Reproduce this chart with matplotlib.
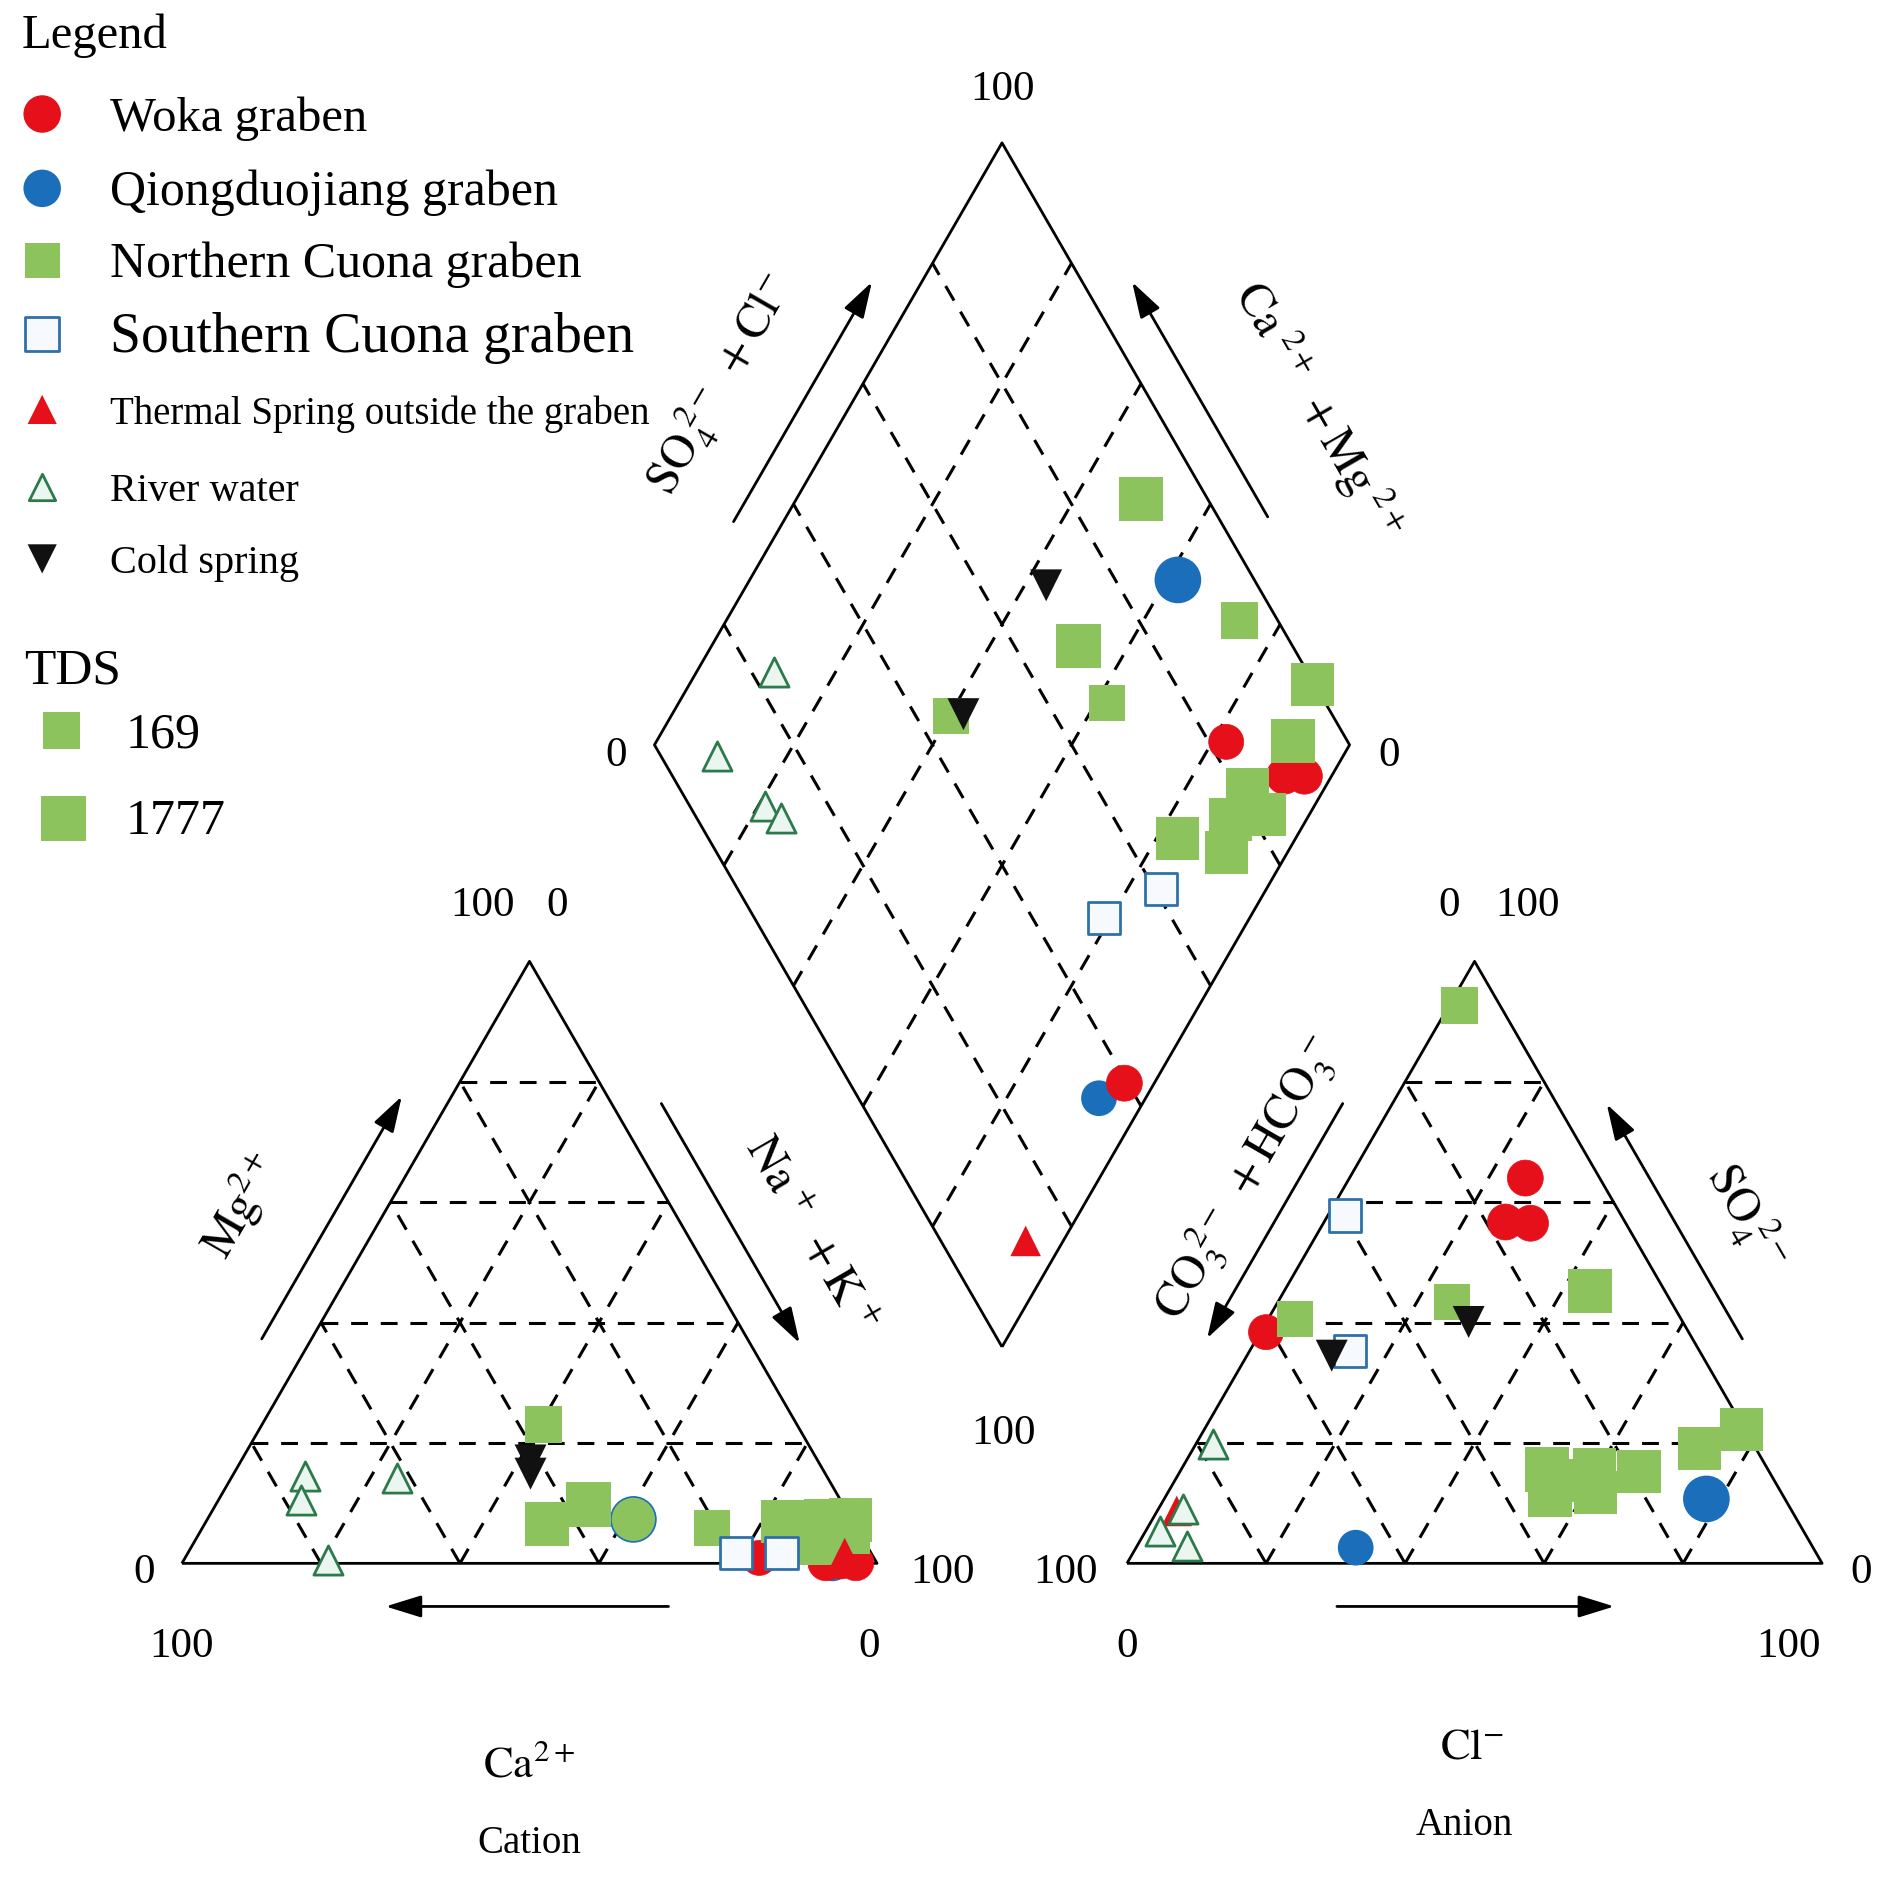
import numpy as np
import matplotlib.pyplot as plt

plt.rcParams['font.family'] = ['Liberation Serif', 'DejaVu Serif']
plt.rcParams['mathtext.fontset'] = 'stix'

# cation triangle points: (Mg2+ %, Na+ + K+ %)
# anion triangle points:  (SO4 2- %, Cl- %)
# diamond points:         (SO4 2- + Cl- %, Ca2+ + Mg2+ %)

woka_cation = [(0.9, 82.6), (0.1, 92.6), (0.1, 96.9), (0.4, 94.6)]
woka_anion = [(38.4, 0.8), (64.0, 25.3), (56.7, 26.1), (56.5, 29.8)]
woka_diamond = [(82.5, 18.0), (88.0, 6.8), (90.9, 3.9), (39.5, 4.3)]
woka_tds = [96, 127, 127, 127]

qd_cation = [(7.3, 61.3), (0.0, 93.6)]
qd_anion = [(10.7, 78.0), (2.6, 31.6)]
qd_diamond = [(89.0, 38.4), (34.6, 6.7)]
qd_tds = [1777, 72]

nc_cation = [(23.0, 40.5), (5.8, 73.3), (4.6, 86.0), (6.6, 49.2), (9.8, 53.6), (7.0, 82.9),
             (7.0, 89.2), (5.1, 93.3), (3.4, 90.2), (6.0, 91.4), (5.6, 87.3), (7.2, 92.6)]
nc_anion = [(92.6, 1.5), (43.4, 25.0), (40.6, 3.8), (45.3, 44.0), (15.6, 52.6), (15.6, 59.4),
            (11.4, 55.2), (11.7, 61.6), (15.3, 66.0), (19.0, 72.8), (22.3, 77.2), (13.7, 56.6)]
nc_diamond = [(94.4, 26.2), (68.5, 38.4), (45.1, 59.7), (90.4, 50.5), (69.2, 47.2), (99.7, 10.4),
              (92.1, 8.5), (81.6, 11.0), (81.9, 6.5), (76.7, 10.9), (67.4, 17.0), (73.3, 8.8)]
nc_tds = [169, 127, 127, 1335, 1500, 1006, 1335, 1006, 1100, 1006, 1050, 1006]

sc_cation = [(1.7, 78.9), (1.7, 85.4)]
sc_anion = [(57.8, 2.5), (35.3, 14.4)]
sc_diamond = [(50.3, 21.0), (60.9, 15.1)]
sc_tds = [96, 96]

thermal_cation = [(1.7, 94.5)]
thermal_anion = [(8.7, 2.8)]
thermal_diamond = [(12.2, 5.4)]

river_cation = [(14.5, 10.4), (10.6, 11.9), (14.2, 23.9), (0.6, 20.7)]
river_anion = [(19.8, 2.4), (9.0, 3.5), (5.3, 2.1), (2.8, 7.3)]
river_diamond = [(23.3, 88.8), (8.1, 90.1), (10.9, 79.0), (12.2, 75.7)]

cold_cation = [(17.1, 41.6), (14.9, 42.7)]
cold_anion = [(40.1, 29.1), (34.5, 12.2)]
cold_diamond = [(69.6, 56.9), (47.0, 58.1)]

tds_legend = [169, 1777]
grid_levels = [20, 40, 60, 80]

RED = '#E5101A'
BLUE = '#1B6FBA'
GREEN = '#8CC35C'
OPEN_EDGE = '#2F70AA'
RIVER_EDGE = '#2C7A4B'

# piper geometry, triangle side = 1
H = np.sqrt(3) / 2
GAP = 0.3596
AN_X0 = 1 + GAP
DB = np.array([1 + GAP / 2, GAP * H])   # diamond bottom corner


def cation_xy(pts):
    p = np.asarray(pts, float) / 100
    return p[:, 1] + p[:, 0] / 2, p[:, 0] * H


def anion_xy(pts):
    p = np.asarray(pts, float) / 100
    return AN_X0 + p[:, 1] + p[:, 0] / 2, p[:, 0] * H


def diamond_xy(pts):
    p = np.asarray(pts, float) / 100
    a, b = p[:, 0], p[:, 1]
    return DB[0] + (a - b) / 2, DB[1] + (a + b) * H


def tds_size(tds):
    t = (np.log(np.asarray(tds, float)) - np.log(169)) / (np.log(1777) - np.log(169))
    return (26.6 + 5.8 * t) ** 2


fig = plt.figure(figsize=(18.89, 18.83), dpi=100)
ax = fig.add_axes([0, 0, 1, 1])
U = 577.0
ax.set_xlim(-151 / U, (1568 - 151) / U)
ax.set_ylim((1298.5 - 1563) / U, 1298.5 / U)
ax.axis('off')

line_kw = dict(color='black', lw=2, zorder=1, solid_capstyle='butt')
dash_kw = dict(color='black', lw=2.2, dashes=(5.5, 4.2), zorder=1)

# triangles
for x0 in (0, AN_X0):
    ax.plot([x0, x0 + 1, x0 + 0.5, x0], [0, 0, H, 0], **line_kw)
    for k in np.array(grid_levels) / 100:
        ax.plot([x0 + k / 2, x0 + 1 - k / 2], [k * H, k * H], **dash_kw)
        ax.plot([x0 + k, x0 + k + (1 - k) / 2], [0, (1 - k) * H], **dash_kw)
        ax.plot([x0 + 1 - k, x0 + (1 - k) / 2], [0, (1 - k) * H], **dash_kw)

# diamond
dl = DB + [-0.5, H]
dr = DB + [0.5, H]
dt = DB + [0, 2 * H]
ax.plot([DB[0], dr[0], dt[0], dl[0], DB[0]], [DB[1], dr[1], dt[1], dl[1], DB[1]], **line_kw)
for k in np.array(grid_levels) / 100:
    ax.plot([DB[0] + k / 2, DB[0] + (k - 1) / 2], [DB[1] + k * H, DB[1] + (k + 1) * H], **dash_kw)
    ax.plot([DB[0] - k / 2, DB[0] + (1 - k) / 2], [DB[1] + k * H, DB[1] + (k + 1) * H], **dash_kw)


def edge_point(p0, p1, t, off):
    p0, p1 = np.asarray(p0, float), np.asarray(p1, float)
    d = p1 - p0
    n = np.array([-d[1], d[0]]) / np.hypot(*d)
    return p0 + t * d + off * n


def edge_arrow(p0, p1, t0, t1, off):
    a = edge_point(p0, p1, t0, off)
    b = edge_point(p0, p1, t1, off)
    ax.annotate('', xy=b, xytext=a,
                arrowprops=dict(arrowstyle='-|>,head_length=0.55,head_width=0.17',
                                lw=2, color='black', shrinkA=0, shrinkB=0,
                                mutation_scale=40))


c0, c1, ca = (0, 0), (1, 0), (0.5, H)
a0, a1, aa = (AN_X0, 0), (AN_X0 + 1, 0), (AN_X0 + 0.5, H)
OFF = 0.062

edge_arrow(c0, ca, 0.337, 0.74, OFF)
edge_arrow(ca, c1, 0.272, 0.67, OFF)
edge_arrow(c1, c0, 0.30, 0.707, OFF)
edge_arrow(aa, a0, 0.272, 0.662, -OFF)
edge_arrow(a1, aa, 0.337, 0.727, -OFF)
edge_arrow(a0, a1, 0.302, 0.701, -OFF)
edge_arrow(dl, dt, 0.335, 0.733, OFF)
edge_arrow(dr, dt, 0.343, 0.733, -OFF)

# axis names along the edges
lab_kw = dict(fontsize=34, ha='center', va='center', rotation_mode='anchor')
ax.text(0.085, 0.517, r'$\mathrm{Mg^{2+}}$', rotation=60, **lab_kw)
ax.text(0.903, 0.474, r'$\mathrm{Na^{\,+}\ +K^{\,+}}$', rotation=-60, **lab_kw)
ax.text(1.532, 0.556, r'$\mathrm{CO_3^{\ 2-}\ +HCO_3^{\ -}}$', rotation=60, **lab_kw)
ax.text(2.251, 0.500, r'$\mathrm{SO_4^{\ 2-}}$', rotation=-60, **lab_kw)
ax.text(0.775, 1.697, r'$\mathrm{SO_4^{\ 2-}\ +Cl^{-}}$', rotation=60, **lab_kw)
ax.text(1.636, 1.661, r'$\mathrm{Ca^{\ 2+}\ +Mg^{\ 2+}}$', rotation=-60, **lab_kw)

# scale numbers at the corners
num_kw = dict(fontsize=31, ha='center', va='center')
corner_labels = [
    (dt, 0.0, 0.078, '100'), (dl, -0.055, -0.014, '0'), (dr, 0.057, -0.014, '0'),
    (DB, 0.002, -0.123, '100'),
    (ca, -0.068, 0.082, '100'), (ca, 0.04, 0.082, '0'),
    (c0, -0.054, -0.012, '0'), (c0, 0.0, -0.119, '100'),
    (c1, 0.094, -0.012, '100'), (c1, -0.012, -0.119, '0'),
    (aa, -0.036, 0.082, '0'), (aa, 0.076, 0.082, '100'),
    (a0, -0.088, -0.012, '100'), (a0, 0.0, -0.119, '0'),
    (a1, 0.056, -0.012, '0'), (a1, -0.048, -0.119, '100'),
]
for p, dx, dy, s in corner_labels:
    ax.text(p[0] + dx, p[1] + dy, s, **num_kw)

ax.text(0.5, -0.289, r'$\mathrm{Ca^{2+}}$', fontsize=32, ha='center', va='center')
ax.text(0.5, -0.401, 'Cation', fontsize=28, ha='center', va='center')
ax.text(AN_X0 + 0.497, -0.263, r'$\mathrm{Cl^{-}}$', fontsize=32, ha='center', va='center')
ax.text(AN_X0 + 0.485, -0.375, 'Anion', fontsize=28, ha='center', va='center')


# samples
def plot_group(pc, pa, pd, marker, size, z, cation_face=None, **kw):
    for xy, pts_kind in ((cation_xy(pc), 'c'), (anion_xy(pa), 'a'), (diamond_xy(pd), 'd')):
        style = dict(kw)
        if pts_kind == 'c' and cation_face is not None:
            style['facecolors'] = cation_face
        ax.scatter(*xy, s=size, marker=marker, zorder=z, clip_on=False, **style)


plot_group(qd_cation, qd_anion, qd_diamond, 'o', tds_size(qd_tds), 2,
           cation_face=[GREEN, BLUE], facecolors=BLUE, edgecolors=BLUE, linewidths=1.2)
plot_group(woka_cation, woka_anion, woka_diamond, 'o', tds_size(woka_tds), 3,
           facecolors=RED, edgecolors=RED, linewidths=0.5)
plot_group(nc_cation, nc_anion, nc_diamond, 's', tds_size(nc_tds), 4,
           facecolors=GREEN, edgecolors='none')
plot_group(sc_cation, sc_anion, sc_diamond, 's', tds_size(sc_tds) * 0.85, 5,
           facecolors='#F6FAFE', edgecolors=OPEN_EDGE, linewidths=2)
plot_group(thermal_cation, thermal_anion, thermal_diamond, '^', 22 ** 2, 6,
           facecolors=RED, edgecolors='none')
plot_group(river_cation, river_anion, river_diamond, '^', 21 ** 2, 6,
           facecolors='#EAF6EF', edgecolors=RIVER_EDGE, linewidths=2)
plot_group(cold_cation, cold_anion, cold_diamond, 'v', 23 ** 2, 7,
           facecolors='#111111', edgecolors='none')

# legend
ax.text(-0.2305, 2.1984, 'Legend', fontsize=35, ha='left', va='center')
legend_rows = [
    ('o', dict(facecolors=RED, edgecolors='none'), 27, 'Woka graben', 35),
    ('o', dict(facecolors=BLUE, edgecolors='none'), 27, 'Qiongduojiang graben', 36),
    ('s', dict(facecolors=GREEN, edgecolors='none'), 25, 'Northern Cuona graben', 36),
    ('s', dict(facecolors='#F6FAFE', edgecolors=OPEN_EDGE, linewidths=2), 24, 'Southern Cuona graben', 40),
    ('^', dict(facecolors=RED, edgecolors='none'), 21, 'Thermal Spring outside the graben', 28),
    ('^', dict(facecolors='#EAF6EF', edgecolors=RIVER_EDGE, linewidths=2), 19, 'River water', 29),
    ('v', dict(facecolors='#111111', edgecolors='none'), 21, 'Cold spring', 29),
]
row_y = [2.080, 1.973, 1.869, 1.764, 1.655, 1.543, 1.440]
for (m, kw, ms, label, fs), y in zip(legend_rows, row_y):
    ax.scatter([-0.201], [y + 0.005], marker=m, s=ms ** 2, clip_on=False, **kw)
    ax.text(-0.104, y, label, fontsize=fs, ha='left', va='center')

ax.text(-0.227, 1.2851, 'TDS', fontsize=37, ha='left', va='center')
ax.scatter([-0.1733, -0.1698], [1.1984, 1.0719], marker='s', s=tds_size(tds_legend),
           facecolors=GREEN, edgecolors='none')
for v, y in zip(tds_legend, [1.1932, 1.0685]):
    ax.text(-0.0815, y, str(v), fontsize=36, ha='left', va='center')

fig.savefig('out.png', dpi=100, facecolor='white')
